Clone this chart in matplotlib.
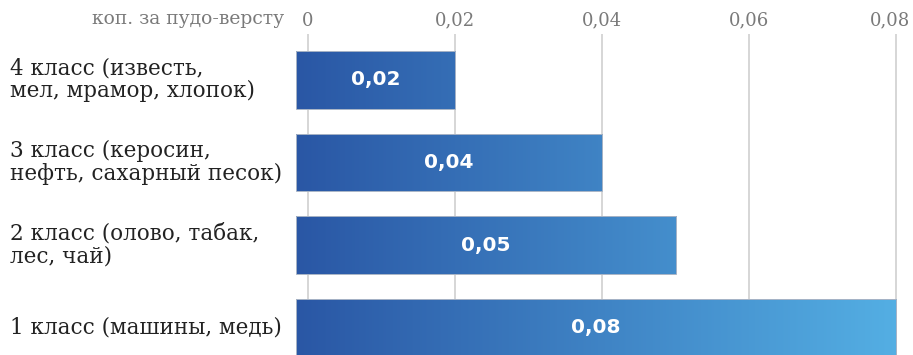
import numpy as np
import matplotlib.pyplot as plt
from matplotlib.colors import LinearSegmentedColormap
from matplotlib.transforms import blended_transform_factory, ScaledTranslation

# data
categories = [
    '4 класс (известь,\nмел, мрамор, хлопок)',
    '3 класс (керосин,\nнефть, сахарный песок)',
    '2 класс (олово, табак,\nлес, чай)',
    '1 класс (машины, медь)',
]
values = [0.02, 0.04, 0.05, 0.08]
value_labels = ['0,02', '0,04', '0,05', '0,08']
ticks = [0, 0.02, 0.04, 0.06, 0.08]
tick_labels = ['0', '0,02', '0,04', '0,06', '0,08']
unit_label = 'коп. за пудо-версту'

W, H = 913, 355
fig = plt.figure(figsize=(W / 100, H / 100), dpi=100)
ax = fig.add_axes([290 / W, 0, 1 - 290 / W, (H - 34) / H])

xmin, xmax = -0.00245, 0.0823
ax.set_xlim(xmin, xmax)
ax.set_ylim(3.33, -0.556)

bar_left = -0.0017
cmap = LinearSegmentedColormap.from_list('bars', ['#2a57a5', '#55b1e5'])
grad = np.linspace(0, 1, 256).reshape(1, -1)

bars = ax.barh(range(len(values)), [v - bar_left for v in values], left=bar_left,
               height=0.7, color='none', edgecolor='#a8b4c6', linewidth=0.7, zorder=3)
for bar, lab in zip(bars, value_labels):
    im = ax.imshow(grad, cmap=cmap, aspect='auto', extent=(bar_left, xmax, 3.5, -0.6),
                   zorder=2, interpolation='bicubic')
    im.set_clip_path(bar)
    x0, y0 = bar.get_x(), bar.get_y()
    ax.text(x0 + bar.get_width() / 2, y0 + bar.get_height() / 2, lab,
            ha='center', va='center', color='white', fontsize=14.5,
            fontweight='bold', family='DejaVu Sans', zorder=4)

# gridlines
for t in ticks:
    ax.axvline(t, color='#cfcfcf', lw=1.2, zorder=1)

ax.xaxis.tick_top()
ax.set_xticks(ticks)
ax.set_xticklabels(tick_labels, family='DejaVu Serif', fontsize=13, color='#7a7a7a')
ax.tick_params(axis='x', length=0, pad=3)
# last label sits a little left of its gridline
last = ax.get_xticklabels()[-1]
last.set_transform(last.get_transform() + ScaledTranslation(-6 / 100, 0, fig.dpi_scale_trans))
ax.set_yticks([])
for s in ax.spines.values():
    s.set_visible(False)

fig.text(284 / W, 1 - 19 / H, unit_label, ha='right', va='center',
         family='DejaVu Serif', fontsize=13.5, color='#7a7a7a')

trans = blended_transform_factory(fig.transFigure, ax.transData)
for i, cat in enumerate(categories):
    ax.text(10 / W, i, cat, transform=trans, ha='left', va='center',
            fontsize=15.5, color='#222222', family='DejaVu Serif',
            linespacing=1.05)

fig.savefig('out.png', dpi=100)
